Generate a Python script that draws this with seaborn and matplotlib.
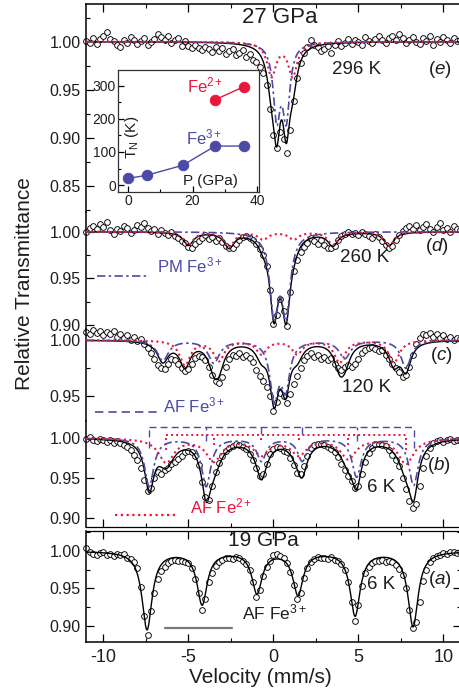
import numpy as np
import seaborn as sns
from matplotlib import pyplot as plt
from matplotlib.lines import Line2D
from matplotlib.ticker import MultipleLocator, FormatStrFormatter

sns.set_style('ticks')
plt.rcParams['font.family'] = ['Liberation Sans', 'DejaVu Sans']
plt.rcParams.update({
    'mathtext.fontset': 'custom',
    'mathtext.rm': 'Liberation Sans',
    'mathtext.it': 'Liberation Sans:italic',
    'axes.unicode_minus': False,
    'xtick.direction': 'in', 'ytick.direction': 'in',
    'xtick.major.size': 5.5, 'ytick.major.size': 5.5,
    'xtick.minor.size': 3, 'ytick.minor.size': 3,
    'xtick.major.width': 0.9, 'ytick.major.width': 0.9,
    'xtick.minor.width': 0.8, 'ytick.minor.width': 0.8,
    'xtick.color': 'black', 'ytick.color': 'black',
    'axes.edgecolor': 'black', 'axes.linewidth': 1.1,
})

W, H = 459, 690
BLUE = '#4b4ba6'
RED = '#e8173d'
INK = '#1e1e1e'

# channel velocities (mm/s)
velocity = np.round(np.arange(-11.0, 11.001, 0.2), 1)

# measured transmittance, one row = 2 mm/s
trans_e = [  # 27 GPa, 296 K
    1.001, 0.999, 1.004, 0.998, 1.003, 1.006, 1.010, 1.003, 1.001, 0.997,
    0.995, 1.002, 0.999, 1.005, 1.002, 0.998, 1.001, 1.004, 0.997, 1.000,
    1.003, 1.008, 1.005, 1.002, 1.006, 0.999, 1.002, 1.004, 0.996, 1.001,
    0.996, 0.993, 0.997, 0.993, 0.991, 0.995, 0.992, 0.989, 0.994, 0.990,
    0.993, 0.987, 0.990, 0.992, 0.986, 0.988, 0.991, 0.984, 0.987, 0.981,
    0.979, 0.974, 0.967, 0.955, 0.930, 0.903, 0.889, 0.906, 0.899, 0.884,
    0.908, 0.938, 0.962, 0.978, 0.988, 0.995, 1.002, 0.997, 0.994, 0.990,
    0.992, 0.996, 0.988, 0.997, 1.001, 0.996, 0.999, 1.003, 0.998, 1.002,
    1.000, 0.997, 1.005, 1.001, 0.999, 1.003, 1.006, 1.002, 0.999, 1.004,
    1.006, 1.002, 1.008, 1.004, 0.999, 1.002, 1.005, 1.000, 0.998, 1.004,
    1.001, 1.006, 0.997, 1.003, 1.000, 1.005, 1.002, 0.999, 1.004, 1.001,
    1.002,
]
trans_d = [  # 27 GPa, 260 K
    1.000, 1.004, 1.006, 1.003, 1.008, 1.005, 1.010, 1.002, 0.998, 1.003,
    1.001, 1.006, 1.004, 0.999, 1.002, 1.007, 1.005, 1.009, 1.004, 1.001,
    1.003, 0.998, 1.002, 0.999, 0.996, 1.000, 0.995, 0.993, 0.990, 0.988,
    0.984, 0.983, 0.987, 0.990, 0.993, 0.996, 0.992, 0.994, 0.990, 0.993,
    0.989, 0.985, 0.982, 0.983, 0.987, 0.991, 0.994, 0.995, 0.993, 0.991,
    0.987, 0.981, 0.975, 0.963, 0.937, 0.901, 0.911, 0.928, 0.915, 0.899,
    0.935, 0.958, 0.970, 0.978, 0.984, 0.988, 0.993, 0.990, 0.987, 0.991,
    0.986, 0.983, 0.982, 0.985, 0.991, 0.995, 0.998, 1.000, 0.997, 0.999,
    0.996, 1.000, 0.997, 0.995, 0.993, 0.997, 0.994, 0.990, 0.986, 0.983,
    0.985, 0.991, 0.996, 1.001, 1.004, 1.006, 1.003, 1.007, 1.002, 1.005,
    1.008, 1.003, 1.000, 1.005, 1.009, 1.002, 1.004, 1.000, 1.006, 1.003,
    1.002,
]
trans_c = [  # 27 GPa, 120 K
    1.007, 1.005, 1.009, 1.006, 1.008, 1.004, 1.007, 1.005, 1.008, 1.003,
    1.005, 1.002, 1.004, 1.000, 1.003, 0.999, 1.001, 0.996, 0.993, 0.988,
    0.983, 0.978, 0.975, 0.974, 0.979, 0.983, 0.982, 0.979, 0.975, 0.972,
    0.974, 0.979, 0.984, 0.986, 0.985, 0.982, 0.976, 0.969, 0.963, 0.962,
    0.967, 0.976, 0.983, 0.987, 0.986, 0.988, 0.985, 0.987, 0.984, 0.980,
    0.973, 0.968, 0.963, 0.958, 0.950, 0.937, 0.945, 0.953, 0.950, 0.944,
    0.952, 0.961, 0.968, 0.975, 0.982, 0.986, 0.988, 0.985, 0.987, 0.983,
    0.985, 0.982, 0.984, 0.979, 0.975, 0.973, 0.976, 0.978, 0.976, 0.979,
    0.983, 0.988, 0.991, 0.993, 0.994, 0.992, 0.990, 0.991, 0.987, 0.983,
    0.979, 0.975, 0.971, 0.967, 0.969, 0.976, 0.987, 0.996, 1.002, 1.005,
    1.004, 1.006, 1.003, 1.005, 1.002, 1.004, 1.001, 1.003, 1.000, 1.002,
    1.001,
]
trans_b = [  # 27 GPa, 6 K
    0.999, 1.001, 0.998, 0.996, 0.999, 0.997, 0.995, 0.998, 0.994, 0.996,
    0.994, 0.991, 0.989, 0.985, 0.979, 0.972, 0.963, 0.947, 0.934, 0.938,
    0.950, 0.957, 0.955, 0.960, 0.963, 0.967, 0.970, 0.974, 0.978, 0.982,
    0.984, 0.983, 0.978, 0.966, 0.945, 0.926, 0.923, 0.940, 0.957, 0.969,
    0.978, 0.984, 0.988, 0.990, 0.993, 0.991, 0.989, 0.986, 0.980, 0.972,
    0.962, 0.953, 0.955, 0.968, 0.980, 0.986, 0.989, 0.987, 0.984, 0.982,
    0.975, 0.966, 0.956, 0.955, 0.965, 0.978, 0.987, 0.991, 0.993, 0.992,
    0.991, 0.989, 0.986, 0.982, 0.976, 0.968, 0.960, 0.953, 0.946, 0.938,
    0.940, 0.955, 0.970, 0.981, 0.988, 0.992, 0.993, 0.991, 0.990, 0.985,
    0.979, 0.972, 0.965, 0.950, 0.936, 0.921, 0.912, 0.918, 0.940, 0.963,
    0.978, 0.988, 0.994, 0.996, 0.998, 0.995, 0.997, 0.999, 0.996, 0.998,
    0.997,
]
trans_a = [  # 19 GPa, 6 K
    1.004, 0.999, 0.996, 0.995, 0.997, 0.998, 0.995, 0.996, 0.993, 0.996,
    0.994, 0.996, 0.991, 0.989, 0.985, 0.977, 0.952, 0.913, 0.888, 0.920,
    0.944, 0.962, 0.973, 0.979, 0.984, 0.986, 0.988, 0.986, 0.987, 0.985,
    0.984, 0.977, 0.963, 0.944, 0.921, 0.936, 0.958, 0.971, 0.980, 0.985,
    0.988, 0.990, 0.991, 0.989, 0.992, 0.990, 0.987, 0.983, 0.975, 0.958,
    0.938, 0.948, 0.967, 0.979, 0.987, 0.994, 0.996, 0.993, 0.990, 0.984,
    0.972, 0.955, 0.936, 0.944, 0.964, 0.977, 0.985, 0.989, 0.992, 0.990,
    0.991, 0.989, 0.992, 0.988, 0.987, 0.983, 0.975, 0.958, 0.932, 0.907,
    0.928, 0.953, 0.970, 0.979, 0.984, 0.987, 0.986, 0.988, 0.985, 0.987,
    0.985, 0.981, 0.976, 0.968, 0.950, 0.922, 0.897, 0.905, 0.932, 0.960,
    0.975, 0.985, 0.990, 0.993, 0.995, 0.997, 0.996, 0.998, 0.999, 0.997,
    0.999,
]

# fitted sub-spectra: line positions (mm/s), depths, half widths
e_pm3_pos, e_pm3_depth, e_pm3_hw = [0.20, 0.76], [0.075, 0.075], [0.25, 0.25]
e_pm2_pos, e_pm2_depth, e_pm2_hw = [-0.10, 1.14], [0.035, 0.035], [0.32, 0.32]

d_pm3_pos, d_pm3_depth, d_pm3_hw = [0.04, 0.75], [0.083, 0.083], [0.30, 0.30]
d_af2_pos = [-5.0, -2.6, -0.6, 1.2, 3.5, 6.8]
d_af2_depth = [0.014, 0.016, 0.008, 0.008, 0.014, 0.015]
d_af2_hw = [0.35, 0.35, 0.35, 0.35, 0.35, 0.35]

c_af3_pos = [-6.5, -3.5, 0.05, 0.72, 4.2, 7.8]
c_af3_depth = [0.018, 0.020, 0.050, 0.040, 0.016, 0.025]
c_af3_hw = [0.40, 0.40, 0.30, 0.30, 0.40, 0.35]
c_af2_pos = [-5.2, -3.2, -0.7, 1.4, 3.9, 7.1]
c_af2_depth = [0.022, 0.018, 0.012, 0.012, 0.020, 0.020]
c_af2_hw = [0.38, 0.38, 0.38, 0.38, 0.38, 0.38]

b_af3_pos = [-7.3, -3.95, -0.7, 1.7, 4.9, 8.25]
b_af3_depth = [0.060, 0.060, 0.028, 0.028, 0.048, 0.059]
b_af3_hw = [0.33, 0.33, 0.33, 0.33, 0.33, 0.33]
b_af2_pos = [-6.3, -3.5, -0.7, 1.5, 4.4, 7.8]
b_af2_depth = [0.030, 0.028, 0.020, 0.020, 0.025, 0.032]
b_af2_hw = [0.55, 0.55, 0.55, 0.55, 0.55, 0.55]
stick_rel = [3, 2, 1, 1, 2, 3]

a_af3_pos = [-7.43, -4.19, -0.96, 1.45, 4.81, 8.22]
a_af3_depth = [0.104, 0.070, 0.055, 0.057, 0.085, 0.100]
a_af3_hw = [0.36, 0.36, 0.36, 0.36, 0.36, 0.36]

# inset: Neel temperature vs pressure
p_fe3 = [0, 6, 17, 27, 36]
tn_fe3 = [20, 30, 60, 118, 118]
p_fe2 = [27, 36]
tn_fe2 = [258, 298]

vfine = np.linspace(-11.02, 11.04, 1103)


def dip(v, pos, depth, hw):
    x = (np.asarray(v, float)[:, None] - np.asarray(pos)) / np.asarray(hw)
    return (np.asarray(depth) / (1.0 + x ** 2)).sum(axis=1)


def fx(px):
    return px / W


def fy(py):
    return 1 - py / H


fig = plt.figure(figsize=(W / 100, H / 100), dpi=100)


def add_panel(top, bottom, ylim):
    ax = fig.add_axes([fx(86), fy(bottom), fx(461) - fx(86), (bottom - top) / H])
    ax.set_xlim(-11.02, 11.04)
    ax.set_ylim(*ylim)
    ax.patch.set_alpha(0)
    ax.xaxis.set_major_locator(MultipleLocator(5))
    ax.xaxis.set_minor_locator(MultipleLocator(2.5))
    ax.yaxis.set_major_locator(MultipleLocator(0.05))
    ax.yaxis.set_minor_locator(MultipleLocator(0.025))
    ax.yaxis.set_major_formatter(FormatStrFormatter('%.2f'))
    ax.tick_params(axis='y', which='both', left=True, right=False, labelsize=11.5,
                   labelcolor=INK, pad=4)
    ax.tick_params(axis='x', which='both', bottom=False, top=False, labelbottom=False)
    for s in ('top', 'bottom', 'right'):
        ax.spines[s].set_visible(False)
    return ax


def spectrum(ax, trans, parts, base=1.0):
    """parts: (pos, depth, hw, color, ls, lw); color None = only in the total fit"""
    sns.scatterplot(x=velocity, y=trans, ax=ax, marker='o', s=17, facecolor='white',
                    edgecolor='black', linewidth=0.65, zorder=2, clip_on=False)
    total = np.zeros_like(vfine)
    curves = []
    for pos, depth, hw, color, ls, lw in parts:
        a = dip(vfine, pos, depth, hw)
        total += a
        if color is not None:
            curves.append((base - a, color, ls, lw))
    sns.lineplot(x=vfine, y=base - total, ax=ax, color='black', lw=1.0,
                 estimator=None, errorbar=None, zorder=3)
    for y, color, ls, lw in curves:
        sns.lineplot(x=vfine, y=y, ax=ax, color=color, linestyle=ls, lw=lw,
                     estimator=None, errorbar=None, zorder=4)
    ax.set_xlabel('')
    ax.set_ylabel('')


DASHDOT = (0, (5, 2, 1.5, 2))
DOTS = (0, (1, 1.6))
DASHED = (0, (5, 3))

ax_e = add_panel(4, 212, (0.8226, 1.0393))
spectrum(ax_e, trans_e, [
    (e_pm3_pos, e_pm3_depth, e_pm3_hw, BLUE, DASHDOT, 1.2),
    (e_pm2_pos, e_pm2_depth, e_pm2_hw, RED, DOTS, 1.5),
])
ax_e.spines['top'].set_visible(True)
ax_e.tick_params(axis='x', which='both', top=True)

ax_d = add_panel(212, 329, (0.8957, 1.0211))
spectrum(ax_d, trans_d, [
    (d_pm3_pos, d_pm3_depth, d_pm3_hw, BLUE, DASHDOT, 1.2),
    (d_af2_pos, d_af2_depth, d_af2_hw, RED, DOTS, 1.5),
])

ax_c = add_panel(329, 421, (0.9277, 1.0098))
spectrum(ax_c, trans_c, [
    (c_af3_pos, c_af3_depth, c_af3_hw, BLUE, DASHDOT, 1.2),
    (c_af2_pos, c_af2_depth, c_af2_hw, RED, DOTS, 1.5),
])

ax_b = add_panel(421, 527, (0.8887, 1.02125))
spectrum(ax_b, trans_b, [
    (b_af3_pos, b_af3_depth, b_af3_hw, BLUE, DASHDOT, 1.2),
    (b_af2_pos, b_af2_depth, b_af2_hw, RED, DOTS, 1.5),
])
ax_b.spines['bottom'].set_visible(True)
ax_b.spines['bottom'].set_linewidth(0.9)
ax_b.tick_params(axis='x', which='both', bottom=True)
# line-position sticks above the 6 K spectrum
ax_b.hlines(1.0134, b_af3_pos[0], b_af3_pos[-1], color=BLUE, ls=DASHED, lw=1)
ax_b.vlines(b_af3_pos, 1.0134 - 0.0085 * np.array(stick_rel), 1.0134,
            color=BLUE, ls=DASHED, lw=1)
ax_b.hlines(1.004, b_af2_pos[0], b_af2_pos[-1], color=RED, ls=DOTS, lw=1.4)
ax_b.vlines(b_af2_pos, 1.004 - 0.0063 * np.array(stick_rel), 1.004,
            color=RED, ls=DOTS, lw=1.4)

ax_a = add_panel(531, 641.7, (0.8791, 1.0266))
spectrum(ax_a, trans_a, [
    (a_af3_pos, a_af3_depth, a_af3_hw, None, None, None),
])
for s in ('top', 'bottom', 'right'):
    ax_a.spines[s].set_visible(True)
ax_a.spines['top'].set_linewidth(0.9)
ax_a.tick_params(axis='x', which='both', bottom=True, top=True, labelbottom=True,
                 labelsize=13, labelcolor=INK, pad=5)
ax_a.tick_params(axis='y', which='both', right=True)
ax_a.set_xticks([-10, -5, 0, 5, 10])

# inset
ax_in = fig.add_axes([fx(118), fy(192), fx(259) - fx(118), (192 - 70) / H])
sns.lineplot(x=p_fe3, y=tn_fe3, ax=ax_in, color=BLUE, marker='o', markersize=7.5,
             markeredgecolor=BLUE, lw=1, estimator=None, errorbar=None)
sns.lineplot(x=p_fe2, y=tn_fe2, ax=ax_in, color=RED, marker='o', markersize=7.5,
             markeredgecolor=RED, lw=1, estimator=None, errorbar=None)
ax_in.set_xlim(-3.1, 40.6)
ax_in.set_ylim(-21, 348)
ax_in.xaxis.set_major_locator(MultipleLocator(20))
ax_in.xaxis.set_minor_locator(MultipleLocator(10))
ax_in.yaxis.set_major_locator(MultipleLocator(100))
ax_in.yaxis.set_minor_locator(MultipleLocator(50))
ax_in.tick_params(which='both', labelsize=10, labelcolor=INK, pad=1.5,
                  top=False, right=False)
ax_in.tick_params(which='major', length=4)
ax_in.tick_params(which='minor', length=2)
for s in ax_in.spines.values():
    s.set_linewidth(0.9)
    s.set_color('#333333')
ax_in.set_xlabel('')
ax_in.set_ylabel('')
ax_in.text(1.3, 145, r'T$_\mathrm{N}$ (K)', rotation=90, ha='center', va='center',
           fontsize=11, color=INK)
ax_in.text(25.4, 12, 'P (GPa)', ha='center', va='center', fontsize=11, color=INK)
ax_in.text(18.3, 279, r'Fe$^{2+}$', fontsize=12, color=RED)
ax_in.text(18.0, 124, r'Fe$^{3+}$', fontsize=12, color=BLUE)


def label(x, y, s, size, color=INK, **kw):
    fig.text(fx(x), fy(y), s, fontsize=size, color=color, va='baseline', **kw)


def sample(x0, x1, y, color, ls, lw):
    fig.add_artist(Line2D([fx(x0), fx(x1)], [fy(y), fy(y)], color=color, ls=ls, lw=lw))


label(280, 23, '27 GPa', 16, ha='center')
label(332, 74, '296 K', 13.5)
label(428, 74, r'($\mathit{e}$)', 13.5)
label(340, 262, '260 K', 13.5)
label(425, 251, r'($\mathit{d}$)', 13.5)
label(342, 392, '120 K', 13.5)
label(430, 360, r'($\mathit{c}$)', 13.5)
label(367, 492, '6 K', 13.5)
label(427, 470, r'($\mathit{b}$)', 13.5)
label(263, 546, '19 GPa', 15, ha='center')
label(367, 589, '6 K', 13.5)
label(428, 584, r'($\mathit{a}$)', 13.5)
label(242, 619, r'AF Fe$^{3+}$', 12.5)
label(157, 272, r'PM Fe$^{3+}$', 12, color=BLUE)
label(163, 412, r'AF Fe$^{3+}$', 12, color=BLUE)
label(190, 513, r'AF Fe$^{2+}$', 12, color=RED)
sample(97, 148, 276, BLUE, DASHDOT, 1.2)
sample(95, 160, 412, BLUE, DASHED, 1.2)
sample(115, 177, 515, RED, DOTS, 1.6)
sample(165, 232, 628, '#7a7a7a', '-', 1.6)

fig.text(fx(25), fy(284), 'Relative Transmittance', rotation=90, ha='center',
         va='center', fontsize=15, color=INK)
label(260.5, 683, 'Velocity (mm/s)', 15, ha='center')

fig.savefig('out.png', dpi=100)
